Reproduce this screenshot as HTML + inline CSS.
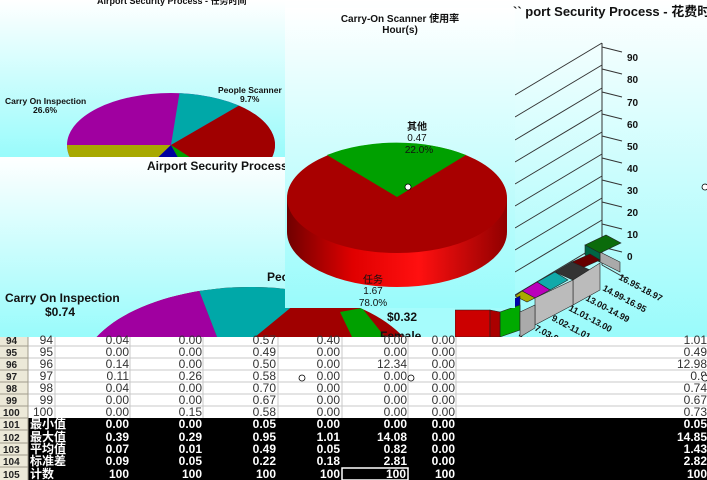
<!DOCTYPE html>
<html><head><meta charset="utf-8"><style>
html,body{margin:0;padding:0;width:707px;height:480px;overflow:hidden;background:#fff}
svg{display:block}
text{font-family:"Liberation Sans","Noto Sans CJK SC",sans-serif}
.t{font-family:"Liberation Sans Narrow","Liberation Sans",sans-serif;font-size:12px;fill:#333}
.w{font-family:"Liberation Sans Narrow","Liberation Sans","Noto Sans CJK SC",sans-serif;font-size:12px;fill:#fff;font-weight:bold}
</style></head><body>
<svg width="707" height="480" viewBox="0 0 707 480" xmlns="http://www.w3.org/2000/svg">
<defs>
<linearGradient id="bg" x1="0" y1="0" x2="0" y2="1"><stop offset="0" stop-color="#ffffff"/><stop offset="1" stop-color="#99fbfb"/></linearGradient>
<linearGradient id="side" x1="0" y1="0" x2="1" y2="0"><stop offset="0" stop-color="#700000"/><stop offset=".3" stop-color="#e00000"/><stop offset=".6" stop-color="#ff1010"/><stop offset="1" stop-color="#900000"/></linearGradient>
<clipPath id="cA"><rect x="0" y="0" width="285" height="157"/></clipPath>
<clipPath id="eA"><ellipse cx="171" cy="145" rx="104" ry="52"/></clipPath>
<clipPath id="eC"><ellipse cx="250" cy="375" rx="170" ry="88"/></clipPath>
</defs>
<!-- right panel -->
<rect x="285" y="0" width="422" height="340" fill="url(#bg)"/>
<text x="513" y="16" font-size="13" font-weight="bold" fill="#111">`` port Security Process - 花费时间</text>
<g stroke="#333" stroke-width="1" fill="none">
<line x1="602" y1="43" x2="602" y2="265"/>
<line x1="602" y1="265" x2="625" y2="278"/>
<g>
<line x1="602" y1="43" x2="515" y2="95"/><line x1="602" y1="65" x2="515" y2="117"/>
<line x1="602" y1="88" x2="515" y2="140"/><line x1="602" y1="110" x2="515" y2="162"/>
<line x1="602" y1="132" x2="515" y2="184"/><line x1="602" y1="154" x2="515" y2="206"/>
<line x1="602" y1="176" x2="515" y2="228"/><line x1="602" y1="198" x2="515" y2="250"/>
<line x1="602" y1="220" x2="515" y2="272"/><line x1="602" y1="243" x2="515" y2="295"/>
</g>
<g>
<line x1="602" y1="47" x2="622" y2="52"/><line x1="602" y1="69" x2="622" y2="74"/>
<line x1="602" y1="92" x2="622" y2="97"/><line x1="602" y1="114" x2="622" y2="119"/>
<line x1="602" y1="136" x2="622" y2="141"/><line x1="602" y1="158" x2="622" y2="163"/>
<line x1="602" y1="180" x2="622" y2="185"/><line x1="602" y1="202" x2="622" y2="207"/>
<line x1="602" y1="224" x2="622" y2="229"/><line x1="602" y1="247" x2="622" y2="252"/>
</g>
</g>
<g font-size="10" font-weight="bold" fill="#111">
<text x="627" y="61">90</text><text x="627" y="83">80</text><text x="627" y="106">70</text>
<text x="627" y="128">60</text><text x="627" y="150">50</text><text x="627" y="172">40</text>
<text x="627" y="194">30</text><text x="627" y="216">20</text><text x="627" y="238">10</text>
<text x="627" y="260">0</text>
</g>
<g font-size="9" font-weight="bold" fill="#111">
<text transform="translate(618,279) rotate(28)">16.95-18.97</text>
<text transform="translate(602,290) rotate(28)">14.99-16.95</text>
<text transform="translate(585,300) rotate(28)">13.00-14.99</text>
<text transform="translate(568,310) rotate(28)">11.01-13.00</text>
<text transform="translate(551,320) rotate(28)">9.02-11.01</text>
<text transform="translate(534,330) rotate(28)">7.03-9.02</text>
<text transform="translate(517,338) rotate(28)">5.0</text>
</g>
<!-- bars -->
<g stroke="#222" stroke-width=".6">
<polygon points="600,252 620,262 620,272 600,262" fill="#aaa"/>
<polygon points="585,245 606,235 621,243 600,253" fill="#0b6b0b"/>
<polygon points="585,245 600,253 600,262 585,255" fill="#064"/>
<polygon points="572,262 590,254 600,260 582,268" fill="#600"/>
<polygon points="555,272 572,262 590,270 573,280" fill="#333"/>
<polygon points="537,282 555,272 568,280 550,290" fill="#1aa"/>
<polygon points="522,291 537,282 550,290 535,298" fill="#b0b"/>
<polygon points="515,296 522,291 535,298 527,302" fill="#aa0"/>
<polygon points="512,300 520,296 520,312 512,316" fill="#00a"/>
<polygon points="573,280 600,263 600,290 573,305" fill="#bbb"/>
<polygon points="535,298 573,280 573,305 535,325" fill="#bbb"/>
<polygon points="500,312 520,305 520,330 500,337" fill="#0a0"/>
<polygon points="455,310 490,310 490,337 455,337" fill="#c00"/>
<polygon points="490,310 500,312 500,337 490,337" fill="#a00"/>
<polygon points="520,312 535,305 535,328 520,337" fill="#aaa"/>
</g>
<!-- panel A -->
<rect x="0" y="0" width="285" height="157" fill="url(#bg)"/>
<text x="97" y="4" font-size="9" font-weight="bold" fill="#111">Airport Security Process - 任务时间</text>
<g clip-path="url(#cA)">
<g clip-path="url(#eA)">
<rect x="60" y="85" width="230" height="80" fill="#a000a0"/>
<polygon points="171,145 180,90 240,90 240,105" fill="#00a8a8"/>
<polygon points="171,145 240,105 300,90 300,170 200,170" fill="#a00000"/>
<polygon points="171,145 60,145 60,170 145,170" fill="#a8a800"/>
<polygon points="171,145 145,170 185,170" fill="#0000a0"/>
<polygon points="171,145 185,170 210,170" fill="#00a000"/>
</g>
</g>
<text x="5" y="104" font-size="8.5" font-weight="bold" fill="#111">Carry On Inspection</text>
<text x="33" y="113" font-size="8.5" font-weight="bold" fill="#111">26.6%</text>
<text x="218" y="93" font-size="8.5" font-weight="bold" fill="#111">People Scanner</text>
<text x="240" y="102" font-size="8.5" font-weight="bold" fill="#111">9.7%</text>
<!-- panel C -->
<rect x="0" y="157" width="285" height="180" fill="url(#bg)"/>
<rect x="285" y="300" width="170" height="37" fill="#a6fcfc"/>
<text x="147" y="170" font-size="12" font-weight="bold" fill="#111">Airport Security Process -</text>
<ellipse cx="250" cy="375" rx="170" ry="88" fill="#a00000"/>
<g clip-path="url(#eC)">
<polygon points="60,280 195,280 217,337 60,337" fill="#a000a0"/>
<polygon points="195,280 340,280 300,300 255,337 217,337" fill="#00a8a8"/>
<polygon points="340,312 362,308 385,337 352,337" fill="#00a000"/>
</g>
<text x="5" y="302" font-size="12" font-weight="bold" fill="#111">Carry On Inspection</text>
<text x="45" y="316" font-size="12" font-weight="bold" fill="#111">$0.74</text>
<text x="267" y="281" font-size="12" font-weight="bold" fill="#111">Peo</text>
<text x="387" y="321" font-size="12" font-weight="bold" fill="#111">$0.32</text>
<text x="380" y="340" font-size="12" font-weight="bold" fill="#111">Female</text>
<!-- center panel -->
<rect x="285" y="8" width="230" height="300" fill="url(#bg)"/>
<text x="400" y="22" font-size="10" font-weight="bold" fill="#111" text-anchor="middle">Carry-On Scanner 使用率</text>
<text x="400" y="33" font-size="10" font-weight="bold" fill="#111" text-anchor="middle">Hour(s)</text>
<path d="M287,198 L287,232 A110,55 0 0 0 507,232 L507,198 Z" fill="url(#side)"/>
<ellipse cx="397" cy="198" rx="110" ry="55" fill="#a80000"/>
<path d="M397,197 L327,155 A110,55 0 0 1 466,155 Z" fill="#00a000"/>
<circle cx="408" cy="187" r="3" fill="#fff" stroke="#000" stroke-width=".8"/>
<text x="417" y="130" font-size="10" font-weight="bold" fill="#111" text-anchor="middle">其他</text>
<text x="417" y="141" font-size="10" fill="#111" text-anchor="middle">0.47</text>
<text x="419" y="153" font-size="10" fill="#111" text-anchor="middle">22.0%</text>
<text x="373" y="283" font-size="10" fill="#111" text-anchor="middle">任务</text>
<text x="373" y="294" font-size="10" fill="#111" text-anchor="middle">1.67</text>
<text x="373" y="306" font-size="10" fill="#111" text-anchor="middle">78.0%</text>
<circle cx="705" cy="187" r="3" fill="#fff" stroke="#000" stroke-width=".8"/>
<!-- table -->
<rect x="0" y="337" width="707" height="143" fill="#fff"/>
<rect x="0" y="418" width="707" height="62" fill="#000"/>
<rect x="0" y="337" width="28" height="143" fill="#ece9d8"/>
<g stroke="#c8c8c8" stroke-width="1">
<line x1="28" y1="346" x2="707" y2="346"/><line x1="28" y1="358" x2="707" y2="358"/>
<line x1="28" y1="370" x2="707" y2="370"/><line x1="28" y1="382" x2="707" y2="382"/>
<line x1="28" y1="394" x2="707" y2="394"/><line x1="28" y1="406" x2="707" y2="406"/>
<line x1="55" y1="337" x2="55" y2="418"/><line x1="130" y1="337" x2="130" y2="418"/>
<line x1="203" y1="337" x2="203" y2="418"/><line x1="278" y1="337" x2="278" y2="418"/>
<line x1="342" y1="337" x2="342" y2="418"/><line x1="408" y1="337" x2="408" y2="418"/>
<line x1="456" y1="337" x2="456" y2="418"/>
</g>
<g stroke="#a09c8c" stroke-width="1">
<line x1="0" y1="346" x2="28" y2="346"/><line x1="0" y1="358" x2="28" y2="358"/><line x1="0" y1="370" x2="28" y2="370"/>
<line x1="0" y1="382" x2="28" y2="382"/><line x1="0" y1="394" x2="28" y2="394"/><line x1="0" y1="406" x2="28" y2="406"/>
<line x1="0" y1="418" x2="28" y2="418"/><line x1="0" y1="430" x2="28" y2="430"/><line x1="0" y1="443" x2="28" y2="443"/>
<line x1="0" y1="455" x2="28" y2="455"/><line x1="0" y1="467" x2="28" y2="467"/><line x1="28" y1="337" x2="28" y2="480"/>
</g>
<g font-size="10" font-weight="bold" fill="#222" font-family="Liberation Sans Narrow, Liberation Sans, sans-serif">
<text x="6" y="344">94</text><text x="6" y="356">95</text><text x="6" y="368">96</text><text x="6" y="380">97</text>
<text x="6" y="392">98</text><text x="6" y="404">99</text><text x="3" y="416">100</text><text x="3" y="428">101</text>
<text x="3" y="441">102</text><text x="3" y="453">103</text><text x="3" y="465">104</text><text x="3" y="478">105</text>
</g>
<g class="t" text-anchor="end">
<text x="53" y="344">94</text><text x="129" y="344">0.04</text><text x="202" y="344">0.00</text><text x="276" y="344">0.57</text><text x="340" y="344">0.40</text><text x="407" y="344">0.00</text><text x="455" y="344">0.00</text><text x="707" y="344">1.01</text>
<text x="53" y="356">95</text><text x="129" y="356">0.00</text><text x="202" y="356">0.00</text><text x="276" y="356">0.49</text><text x="340" y="356">0.00</text><text x="407" y="356">0.00</text><text x="455" y="356">0.00</text><text x="707" y="356">0.49</text>
<text x="53" y="368">96</text><text x="129" y="368">0.14</text><text x="202" y="368">0.00</text><text x="276" y="368">0.50</text><text x="340" y="368">0.00</text><text x="407" y="368">12.34</text><text x="455" y="368">0.00</text><text x="707" y="368">12.98</text>
<text x="53" y="380">97</text><text x="129" y="380">0.11</text><text x="202" y="380">0.26</text><text x="276" y="380">0.58</text><text x="340" y="380">0.00</text><text x="407" y="380">0.00</text><text x="455" y="380">0.00</text><text x="707" y="380">0.9</text>
<text x="53" y="392">98</text><text x="129" y="392">0.04</text><text x="202" y="392">0.00</text><text x="276" y="392">0.70</text><text x="340" y="392">0.00</text><text x="407" y="392">0.00</text><text x="455" y="392">0.00</text><text x="707" y="392">0.74</text>
<text x="53" y="404">99</text><text x="129" y="404">0.00</text><text x="202" y="404">0.00</text><text x="276" y="404">0.67</text><text x="340" y="404">0.00</text><text x="407" y="404">0.00</text><text x="455" y="404">0.00</text><text x="707" y="404">0.67</text>
<text x="53" y="416">100</text><text x="129" y="416">0.00</text><text x="202" y="416">0.15</text><text x="276" y="416">0.58</text><text x="340" y="416">0.00</text><text x="407" y="416">0.00</text><text x="455" y="416">0.00</text><text x="707" y="416">0.73</text>
</g>
<circle cx="302" cy="378" r="3" fill="#fff" stroke="#000" stroke-width=".8"/>
<circle cx="411" cy="378" r="3" fill="#fff" stroke="#000" stroke-width=".8"/>
<circle cx="705" cy="378" r="3" fill="#fff" stroke="#000" stroke-width=".8"/>
<rect x="342" y="468" width="66" height="12" fill="none" stroke="#fff" stroke-width="1.5"/>
<g class="w">
<text x="30" y="428" text-anchor="start">最小值</text><text x="30" y="441">最大值</text><text x="30" y="453">平均值</text><text x="30" y="465">标准差</text><text x="30" y="478">计数</text>
</g>
<g class="w" text-anchor="end">
<text x="129" y="428">0.00</text><text x="202" y="428">0.00</text><text x="276" y="428">0.05</text><text x="340" y="428">0.00</text><text x="407" y="428">0.00</text><text x="455" y="428">0.00</text><text x="707" y="428">0.05</text>
<text x="129" y="441">0.39</text><text x="202" y="441">0.29</text><text x="276" y="441">0.95</text><text x="340" y="441">1.01</text><text x="407" y="441">14.08</text><text x="455" y="441">0.00</text><text x="707" y="441">14.85</text>
<text x="129" y="453">0.07</text><text x="202" y="453">0.01</text><text x="276" y="453">0.49</text><text x="340" y="453">0.05</text><text x="407" y="453">0.82</text><text x="455" y="453">0.00</text><text x="707" y="453">1.43</text>
<text x="129" y="465">0.09</text><text x="202" y="465">0.05</text><text x="276" y="465">0.22</text><text x="340" y="465">0.18</text><text x="407" y="465">2.81</text><text x="455" y="465">0.00</text><text x="707" y="465">2.82</text>
<text x="129" y="478">100</text><text x="202" y="478">100</text><text x="276" y="478">100</text><text x="340" y="478">100</text><text x="406" y="478">100</text><text x="455" y="478">100</text><text x="707" y="478">100</text>
</g>
</svg>
</body></html>
